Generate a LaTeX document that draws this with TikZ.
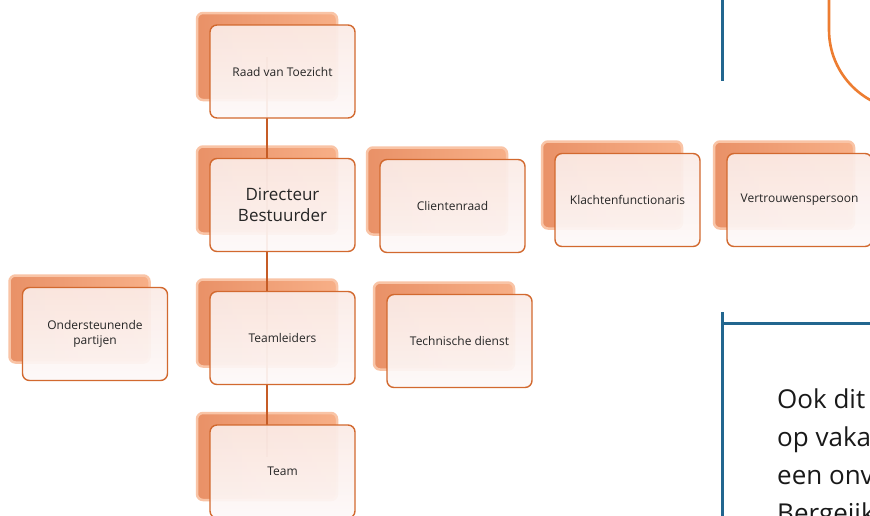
\documentclass[tikz,border=0pt]{standalone}
\usepackage{fontspec}
\setmainfont{Open Sans}
\usetikzlibrary{backgrounds,calc}
\definecolor{boxline}{HTML}{D2692F}
\definecolor{boxfillA}{HTML}{FBEBE6}
\definecolor{boxfillB}{HTML}{FDF9F9}
\definecolor{backA}{HTML}{E99167}
\definecolor{backB}{HTML}{F7AF87}
\definecolor{backedge}{HTML}{F9C4A6}
\definecolor{conn}{HTML}{C65C26}
\definecolor{blueline}{HTML}{22668F}
\definecolor{orangeline}{HTML}{ED7D31}
\tikzset{
  frontbox/.style={draw=boxline, line width=1.4pt, rounded corners=7pt, top color=boxfillA, bottom color=boxfillB,
    fill opacity=0.93, text opacity=1, draw opacity=1, text=black!85,
    minimum width=145pt, minimum height=93pt, inner sep=0pt, align=center, font=\fontsize{12}{14.5}\selectfont},
  bigbox/.style={font=\fontsize{17}{20.5}\selectfont},
  backbox/.style={draw=backedge, line width=2.5pt, rounded corners=6pt, left color=backA, right color=backB,
    minimum width=140pt, minimum height=87pt, inner sep=0pt},
  connector/.style={draw=conn, line width=2.8pt},
  bluel/.style={draw=blueline, line width=3pt},
  bigtext/.style={anchor=base west, inner sep=0pt, font=\fontsize{26}{30}\selectfont, text=black!90}
}
\newcommand{\backbx}[3]{\node[backbox] (#1-b) at ($(#2,#3)+(-15.5,-15)$) {};}
\newcommand{\frontbx}[5][]{\node[frontbox,#1] (#2) at (#3,#4) {#5};}
\begin{document}
\begin{tikzpicture}[x=1pt,y=-1pt]
\useasboundingbox (0,0) rectangle (870,515);
\clip (0,0) rectangle (870,515);
\fill[white] (0,0) rectangle (870,515);
% right side decorations
\coordinate (b1top) at (722,-5);
\coordinate (b1bot) at (722,81);
\draw[bluel] (b1top) -- (b1bot);
\coordinate (b2bot) at (722,520);
\coordinate (b2corner) at (722,323);
\coordinate (b2right) at (875,323);
\coordinate (b2top) at (722,312);
\draw[bluel] (b2top) -- (b2bot);
\draw[bluel] (b2corner) -- (b2right);
\coordinate (o1) at (829,-50);
\coordinate (o2) at (829,110);
\coordinate (o3) at (1000,110);
\draw[orangeline, line width=2.6pt, rounded corners=80pt] (o1) -- (o2) -- (o3);
\node[bigtext] (t1) at (777,408) {Ook dit};
\node[bigtext] (t2) at (777,446) {op vaka};
\node[bigtext] (t3) at (777,484) {een onv};
\node[bigtext] (t4) at (777,522) {Bergeijk};
% back boxes
\backbx{raad}{282.5}{71.5}
\backbx{dir}{282.5}{205}
\backbx{teaml}{282.5}{338}
\backbx{team}{282.5}{471.5}
\backbx{onder}{95}{334}
\backbx{client}{452.5}{206}
\backbx{tech}{459.5}{341}
\backbx{klacht}{627.5}{200}
\backbx{vertr}{799.5}{200}
% connectors
\draw[connector] (raad-b.center) -- (dir-b.center);
\draw[connector] (dir-b.center) -- (teaml-b.center);
\draw[connector] (teaml-b.center) -- (team-b.center);
% front boxes
\frontbx{raad}{282.5}{71.5}{Raad van Toezicht}
\frontbx[bigbox]{dir}{282.5}{205}{Directeur\\Bestuurder}
\frontbx{teaml}{282.5}{338}{Teamleiders}
\frontbx{team}{282.5}{471.5}{Team}
\frontbx{onder}{95}{334}{Ondersteunende\\partijen}
\frontbx{client}{452.5}{206}{Clientenraad}
\frontbx{tech}{459.5}{341}{Technische dienst}
\frontbx{klacht}{627.5}{200}{Klachtenfunctionaris}
\frontbx{vertr}{799.5}{200}{Vertrouwenspersoon}
\end{tikzpicture}
\end{document}
